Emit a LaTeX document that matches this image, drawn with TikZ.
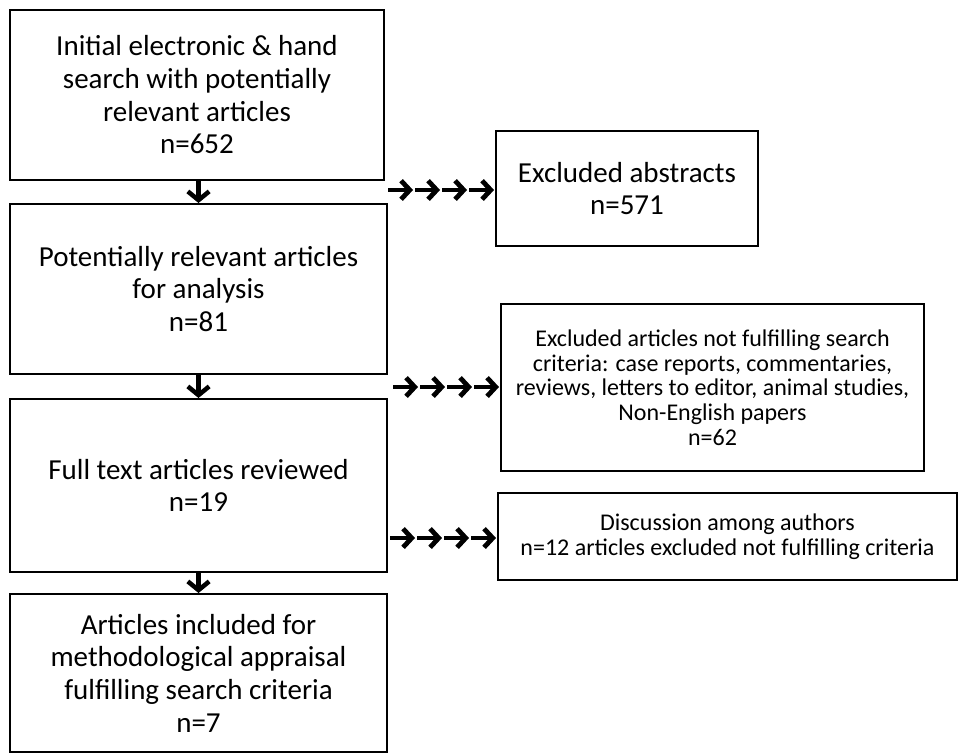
\documentclass[tikz,border=0pt]{standalone}
\usepackage{fontspec}
\setmainfont{Carlito}
\usetikzlibrary{arrows.meta,calc}

\begin{document}
\begin{tikzpicture}[x=0.75pt, y=-0.75pt,
    frame/.style={rectangle, draw, line width=1.5pt, align=center, inner sep=0pt,
        font=\fontsize{21.75}{24.5}\selectfont},
    smallframe/.style={frame, font=\fontsize{18}{18.5}\selectfont},
    down/.style={line width=3.4pt, -{Straight Barb[length=6.5pt, width=16pt]}},
    chain/.style={line width=3.6pt, -{Straight Barb[length=6.5pt, width=14pt]}}
]
    \useasboundingbox (0,0) rectangle (959,754);

    % Colonna principale
    \node[frame, minimum width=280.5pt, minimum height=127.5pt] (search) at (197,95)
        {Initial electronic \& hand\\search with potentially\\relevant articles\\n=652};
    \node[frame, minimum width=282.75pt, minimum height=127.5pt] (screen) at (198.5,289)
        {Potentially relevant articles\\for analysis\\n=81};
    \node[frame, minimum width=282.75pt, minimum height=129.75pt] (fulltext) at (198.5,485.5)
        {Full text articles reviewed\\n=19};
    \node[frame, minimum width=282.75pt, minimum height=118.5pt] (included) at (198.5,673)
        {Articles included for\\methodological appraisal\\fulfilling search criteria\\n=7};

    % Esclusioni
    \node[frame, minimum width=196.5pt, minimum height=86.25pt] (exabs) at (627,188.5)
        {Excluded abstracts\\n=571};
    \node[smallframe, minimum width=317.25pt, minimum height=125.25pt] (exart) at (712.5,387.5)
        {Excluded articles not fulfilling search\\criteria: case reports, commentaries,\\reviews, letters to editor, animal studies,\\Non-English papers\\n=62};
    \node[smallframe, minimum width=344.25pt, minimum height=65.25pt] (exdisc) at (727.5,536.5)
        {Discussion among authors\\n=12 articles excluded not fulfilling criteria};

    % Frecce verticali
    \draw[down] (search.south -| screen.north) -- (screen.north);
    \draw[down] (screen.south) -- (fulltext.north);
    \draw[down] (fulltext.south) -- (included.north);

    % Catene di frecce
    \coordinate (c1) at ($(exabs.west |- 0,190)+(-107,0)$);
    \coordinate (c2) at ($(exart.west |- 0,387)+(-107,0)$);
    \coordinate (c3) at ($(exdisc.west |- 0,538)+(-107,0)$);
    \foreach \c in {c1,c2,c3}
        \foreach \i in {0,...,3}
            \draw[chain] ($(\c)+(\i*27,0)$) -- ++(25,0);
\end{tikzpicture}
\end{document}
